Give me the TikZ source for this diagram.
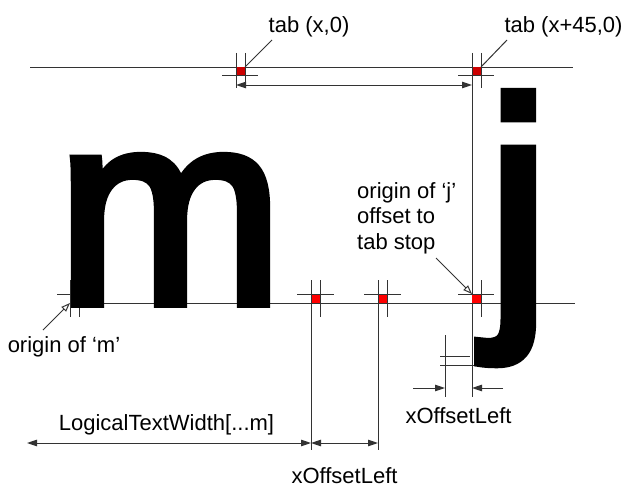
\documentclass[tikz,border=0pt]{standalone}
\usepackage{fontspec}
\setmainfont{Liberation Sans}
\newfontfamily\glyphfont[FakeBold=3.5]{Liberation Sans}
\usetikzlibrary{arrows.meta}
\begin{document}
\begin{tikzpicture}[x=1pt,y=-1pt,
  ln/.style={draw=black!80, line width=1pt},
  dimline/.style={ln, {Triangle[length=10pt,width=6.5pt]}-{Triangle[length=10pt,width=6.5pt]}},
  onearrow/.style={ln, -{Triangle[length=10pt,width=6.5pt]}},
  leader/.style={ln, -{Triangle[open,length=9pt,width=6.5pt,fill=white]}},
  lbl/.style={font=\fontsize{22}{25.5}\selectfont, inner sep=0pt, text=black},
  glyph/.style={font=\glyphfont\fontsize{272}{272}\selectfont, inner sep=0pt, anchor=base west, text=black},
  redsq/.style={fill=red, draw=none},
  darksq/.style={fill=red!80!black, draw=none}]
\useasboundingbox (0,0) rectangle (623,487);

% reference lines
\coordinate (topL) at (30,67);
\coordinate (topR) at (573,67);
\coordinate (baseL) at (70,303);
\coordinate (baseR) at (575,303);
\draw[ln] (topL) -- (topR);
\draw[ln] (baseL) -- (baseR);

% top tab markers
\coordinate (tA) at (236,67);
\coordinate (tB) at (472,67);
\fill[darksq] (tA) rectangle ++(9,8);
\draw[ln] (236,53) -- (236,88);
\draw[ln] (245,53) -- (245,88);
\draw[ln] (222,75) -- (258,75);
\fill[darksq] (tB) rectangle ++(9,8);
\draw[ln] (472,53) -- (472,397);
\draw[ln] (481,53) -- (481,88);
\draw[ln] (458,75) -- (494,75);
\coordinate (dA) at (236,85);
\coordinate (dB) at (472,85);
\draw[dimline] (dA) -- (dB);

% baseline markers
\coordinate (mO) at (70,303);
\fill[redsq] (70,294) rectangle (79,303);
\draw[ln] (70,280) -- (70,317);
\draw[ln] (79,280) -- (79,317);
\draw[ln] (57,294) -- (93,294);

\coordinate (b1) at (311,303);
\fill[redsq] (311,294) rectangle (320,303);
\draw[ln] (311,280) -- (311,450);
\draw[ln] (320,280) -- (320,317);
\draw[ln] (297,294) -- (334,294);

\coordinate (b2) at (378,303);
\fill[redsq] (378,294) rectangle (387,303);
\draw[ln] (378,280) -- (378,450);
\draw[ln] (387,280) -- (387,317);
\draw[ln] (364,294) -- (401,294);

\coordinate (jO) at (472,294);
\fill[redsq] (472,294) rectangle (481,303);
\draw[ln] (481,280) -- (481,317);
\draw[ln] (458,294) -- (494,294);

% j hook extent marks
\draw[ln] (445,335) -- (445,397);
\draw[ln] (440,356) -- (470,356);
\draw[ln] (440,365) -- (503,365);

% dimension arrows
\coordinate (jl1) at (413,388);
\coordinate (jl2) at (445,388);
\coordinate (jr1) at (503,388);
\coordinate (jr2) at (472,388);
\draw[onearrow] (jl1) -- (jl2);
\draw[onearrow] (jr1) -- (jr2);
\coordinate (w0) at (27,443);
\coordinate (w1) at (311,443);
\coordinate (w2) at (378,443);
\draw[dimline] (w0) -- (w1);
\draw[dimline] (w1) -- (w2);

% glyphs
\node[glyph, text depth=0pt] (mglyph) at (56.5,303) {m};
\node[glyph, font=\glyphfont\fontsize{290}{290}\selectfont] (jglyph) at (486,303) {j};

% labels
\node[lbl, anchor=base] (tabx) at (309,33) {tab (x,0)};
\node[lbl, anchor=base] (tabx45) at (563.5,33) {tab (x+45,0)};
\coordinate (tabxEnd) at (272,40);
\coordinate (tabx45End) at (507,40);
\draw[ln] (tabxEnd) -- (245,67);
\draw[ln] (tabx45End) -- (481,67);

\node[lbl, anchor=north west, align=left] (jtext) at (357,182) {origin of ‘j’\\offset to\\tab stop};
\coordinate (jlead) at (436,258);
\draw[leader] (jlead) -- (jO);

\node[lbl, anchor=base] (mtext) at (64,352) {origin of ‘m’};
\coordinate (mlead) at (43,330);
\draw[leader] (mlead) -- (mO);

\node[lbl, anchor=base] (ltw) at (166.5,430) {LogicalTextWidth[...m]};
\node[lbl, anchor=base] (xol1) at (344.5,483) {xOffsetLeft};
\node[lbl, anchor=base] (xol2) at (458.5,423) {xOffsetLeft};
\end{tikzpicture}
\end{document}
